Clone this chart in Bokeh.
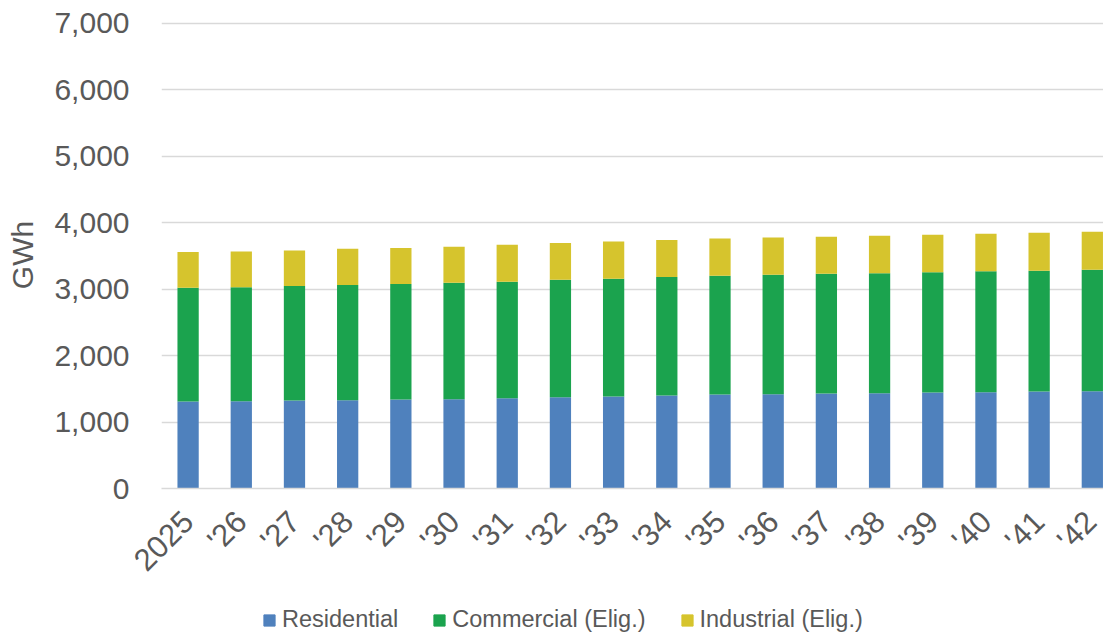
from bokeh.plotting import figure
from bokeh.models import ColumnDataSource, Range1d, FixedTicker, NumeralTickFormatter, Legend, LegendItem
from bokeh.layouts import column
from bokeh.embed import file_html
from bokeh.resources import INLINE
import math

years = ["2025", "'26", "'27", "'28", "'29", "'30", "'31", "'32", "'33",
         "'34", "'35", "'36", "'37", "'38", "'39", "'40", "'41", "'42"]
residential = [1310, 1315, 1325, 1330, 1340, 1345, 1360, 1375, 1385,
               1400, 1415, 1420, 1430, 1435, 1445, 1450, 1460, 1465]
commercial = [1711, 1716, 1722, 1732, 1737, 1752, 1752, 1767, 1772,
              1782, 1787, 1797, 1802, 1807, 1812, 1822, 1817, 1827]
industrial = [538, 538, 537, 547, 542, 542, 557, 552, 562,
              557, 562, 562, 557, 562, 562, 562, 572, 572]
series_names = ["Residential", "Commercial (Elig.)", "Industrial (Elig.)"]
colors = ["#4F81BD", "#1BA34E", "#D6C42D"]
y_ticks = [0, 1000, 2000, 3000, 4000, 5000, 6000, 7000]

x = list(range(len(years)))
src = ColumnDataSource(dict(x=x, residential=residential, commercial=commercial, industrial=industrial))

text_color = "#595959"
font = "Liberation Sans"

p = figure(width=1103, height=600, output_backend="svg", toolbar_location=None,
           x_range=Range1d(-0.5, 17.21), y_range=Range1d(0, 7030),
           min_border_left=161, min_border_right=0, min_border_top=21, min_border_bottom=112)
p.outline_line_color = None

p.vbar_stack(["residential", "commercial", "industrial"], x="x", width=0.4,
             color=colors, line_color=None, source=src)

# y axis
p.yaxis.ticker = FixedTicker(ticks=y_ticks)
p.yaxis.formatter = NumeralTickFormatter(format="0,0")
p.yaxis.axis_line_color = None
p.yaxis.major_tick_line_color = None
p.yaxis.minor_tick_line_color = None
p.yaxis.major_label_text_font = font
p.yaxis.major_label_text_font_size = "30px"
p.yaxis.major_label_text_color = text_color
p.yaxis.major_label_standoff = 26
p.yaxis.axis_label = "GWh"
p.yaxis.axis_label_text_font = font
p.yaxis.axis_label_text_font_size = "30px"
p.yaxis.axis_label_text_font_style = "normal"
p.yaxis.axis_label_text_color = text_color
p.yaxis.axis_label_standoff = 12

# x axis
p.xaxis.ticker = FixedTicker(ticks=x)
p.xaxis.major_label_overrides = {i: y for i, y in enumerate(years)}
p.xaxis.axis_line_color = "#D9D9D9"
p.xaxis.axis_line_width = 1.5
p.xaxis.major_tick_line_color = None
p.xaxis.minor_tick_line_color = None
p.xaxis.major_label_orientation = math.pi / 4
p.xaxis.major_label_text_font = font
p.xaxis.major_label_text_font_size = "31px"
p.xaxis.major_label_text_color = text_color
p.xaxis.major_label_standoff = 22

p.xgrid.grid_line_color = None
p.ygrid.grid_line_color = "#D9D9D9"
p.ygrid.grid_line_width = 1.5
p.ygrid.ticker = FixedTicker(ticks=y_ticks)

# legend strip (dummy renderers sit outside the visible range)
lg = figure(width=1103, height=36, output_backend="svg", toolbar_location=None,
            x_range=Range1d(0, 1), y_range=Range1d(0, 1),
            min_border=0, min_border_left=0, min_border_right=0, min_border_top=0, min_border_bottom=0)
lg.outline_line_color = None
lg.axis.visible = False
lg.grid.visible = False
dummy_src = ColumnDataSource(dict(x=[10], top=[1]))
dummies = [lg.vbar(x="x", top="top", width=0.1, color=c, source=dummy_src) for c in colors]
legend = Legend(items=[LegendItem(label=n, renderers=[r]) for n, r in zip(series_names, dummies)],
                orientation="horizontal", location=(101, 3),
                glyph_width=14, glyph_height=14, label_standoff=6, spacing=34,
                padding=0, margin=0, border_line_color=None, background_fill_alpha=0,
                label_text_font=font, label_text_font_size="23.5px", label_text_color=text_color)
lg.add_layout(legend, "center")

open("out.html", "w").write(file_html(column(p, lg, spacing=0), INLINE))
